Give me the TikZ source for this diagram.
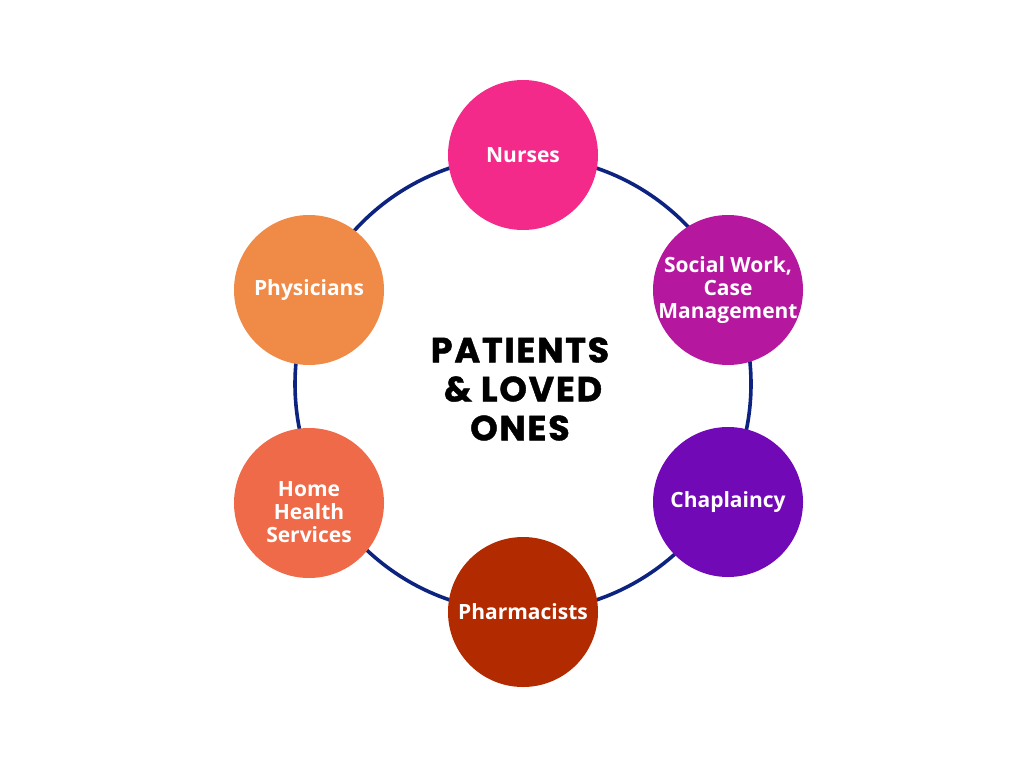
\documentclass[tikz,border=0pt]{standalone}
\usepackage{fontspec}
\setmainfont{Open Sans}
\newfontfamily\titlefont[LetterSpace=5,BoldFeatures={FakeBold=1.2}]{Poppins}
\definecolor{ringc}{RGB}{12,36,128}
\definecolor{cnurse}{RGB}{244,42,139}
\definecolor{csocial}{RGB}{181,24,159}
\definecolor{cchap}{RGB}{114,9,183}
\definecolor{cpharm}{RGB}{178,42,0}
\definecolor{chome}{RGB}{238,106,72}
\definecolor{cphys}{RGB}{239,138,71}
\tikzset{
  memtext/.style={text=white, align=center, inner sep=0pt, font=\fontsize{21}{23}\selectfont\bfseries},
  memberbase/.style={circle, minimum size=150pt, inner sep=0pt, fill=#1},
  member/.style 2 args={memberbase=#1, label={[memtext]center:#2}},
  ringline/.style={draw=ringc, line width=3.6pt},
  titletext/.style={align=center, font=\titlefont\fontsize{35}{39}\selectfont\bfseries, text=black}
}
\begin{document}
\begin{tikzpicture}[x=1pt,y=-1pt]
\useasboundingbox (0,0) rectangle (1024,768);
\coordinate (c) at (523,384);
\draw[ringline] (c) circle[radius=228pt];
\node[member={cnurse}{Nurses}] (nurses) at (523,155) {};
\node[member={csocial}{Social Work,\\Case\\Management}] (social) at (728,290) {};
\node[member={cchap}{Chaplaincy}] (chap) at (728,502) {};
\node[member={cpharm}{Pharmacists}] (pharm) at (523,612) {};
\node[memberbase=chome, label={[memtext,yshift=-9pt]center:Home\\Health\\Services}] (home) at (309,503) {};
\node[member={cphys}{Physicians}] (phys) at (309,290) {};
\node[titletext] (title) at (520,389) {PATIENTS\\\hspace*{6pt}\& LOVED\\ONES};
\end{tikzpicture}
\end{document}
